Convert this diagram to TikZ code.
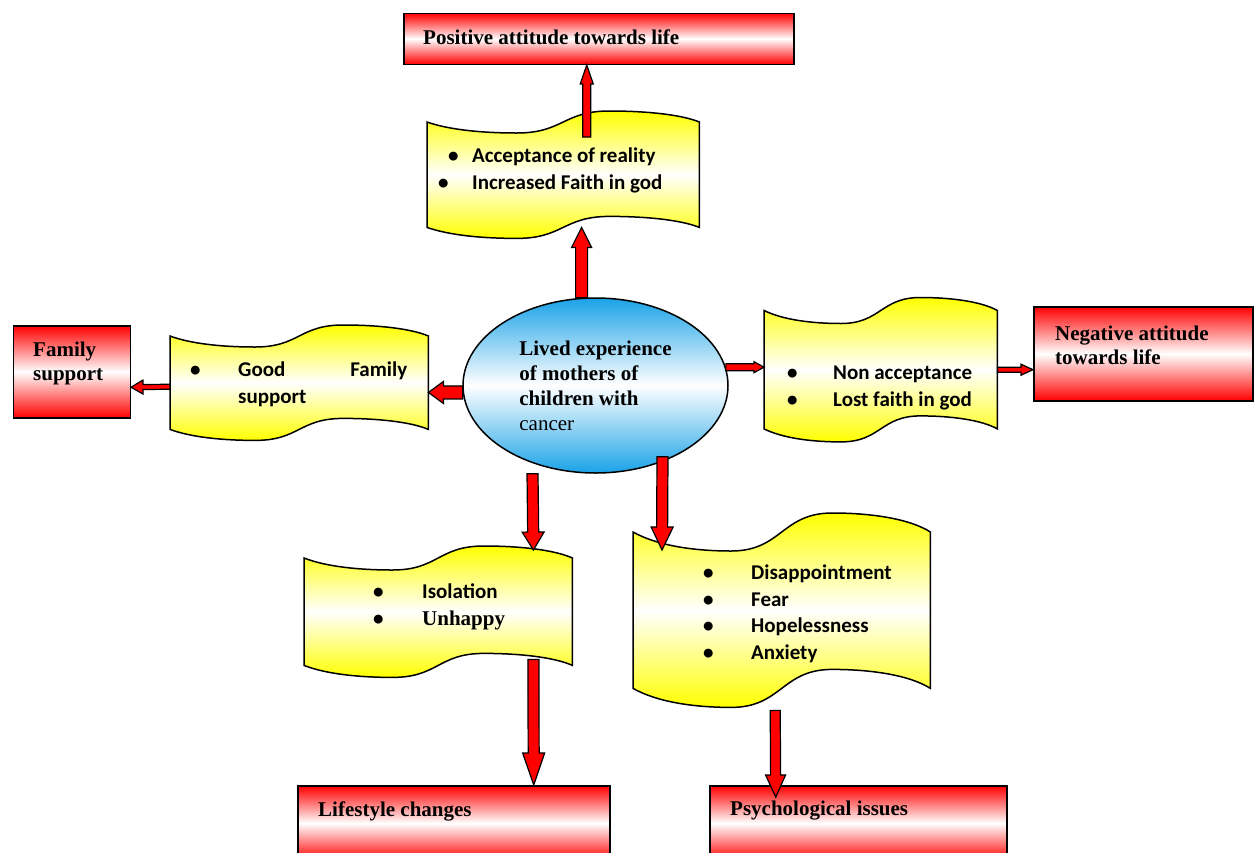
\documentclass[tikz,border=0pt]{standalone}
\usepackage{fontspec}
\setmainfont{Liberation Serif}
\newfontfamily\calibri{Carlito}
\usepackage{tikz}
\usetikzlibrary{calc,shapes.geometric}
\definecolor{skyblue}{RGB}{26,163,232}

\tikzset{
    redbox/.style={draw,line width=1.5pt,anchor=north west,inner sep=0pt,
        top color=red,bottom color=red,middle color=white},
    boxtext/.style={anchor=north west,inner sep=0pt,align=left,
        font=\fontsize{21}{24}\selectfont\bfseries},
    banner/.style={draw,line width=1.5pt,top color=yellow,bottom color=yellow,middle color=white},
    bannerbox/.style={anchor=north west,inner sep=0pt},
    bantext/.style={anchor=north west,inner sep=0pt,align=left,
        font=\calibri\fontsize{21}{26.5}\selectfont\bfseries},
    hub/.style={ellipse,draw,line width=1.5pt,minimum width=265pt,minimum height=175pt,
        inner sep=0pt,top color=skyblue,bottom color=skyblue,middle color=white,
        align=left,font=\fontsize{21}{25}\selectfont\bfseries},
    barrow/.style={draw,fill=red,line width=1.2pt,line join=miter}
}

% wavy banner round an empty node: #1 node, #2 wave height
\newcommand{\wavebanner}[2]{%
    \path[banner] let \p1=(#1.north west), \p2=(#1.south east), \n1={\x2-\x1} in
        (\x1,\y1) .. controls ({\x1+0.08*\n1},{\y1-0.7*#2}) and ({\x1+0.2*\n1},{\y1-#2}) .. ({\x1+0.33*\n1},{\y1-#2})
        .. controls ({\x1+0.5*\n1},{\y1-#2}) and ({\x1+0.5*\n1},{\y1+#2}) .. ({\x1+0.67*\n1},{\y1+#2})
        .. controls ({\x1+0.8*\n1},{\y1+#2}) and ({\x1+0.93*\n1},{\y1+0.7*#2}) .. (\x2,\y1)
        -- (\x2,\y2)
        .. controls ({\x1+0.93*\n1},{\y2+0.7*#2}) and ({\x1+0.8*\n1},{\y2+#2}) .. ({\x1+0.67*\n1},{\y2+#2})
        .. controls ({\x1+0.5*\n1},{\y2+#2}) and ({\x1+0.5*\n1},{\y2-#2}) .. ({\x1+0.33*\n1},{\y2-#2})
        .. controls ({\x1+0.2*\n1},{\y2-#2}) and ({\x1+0.08*\n1},{\y2-0.7*#2}) .. (\x1,\y2)
        -- cycle;}

% block arrow: from, to, half shaft, half head, head length
\newcommand{\blockarrow}[5]{%
    \coordinate (as) at (#1);
    \coordinate (ae) at (#2);
    \coordinate (ah) at ($(ae)!#5!(as)$);
    \filldraw[barrow] ($(as)!#3!90:(ae)$) -- ($(ah)!#3!90:(ae)$) -- ($(ah)!#4!90:(ae)$) -- (ae)
        -- ($(ah)!#4!-90:(ae)$) -- ($(ah)!#3!-90:(ae)$) -- ($(as)!#3!-90:(ae)$) -- cycle;}

\begin{document}
\begin{tikzpicture}[x=1pt,y=-1pt]
    \useasboundingbox (0,0) rectangle (1256,852);

    % outcomes
    \node[redbox,minimum width=390pt,minimum height=51pt] (posbox) at (403,12.5) {};
    \node[redbox,minimum width=117pt,minimum height=92pt] (fambox) at (12.5,325) {};
    \node[redbox,minimum width=219pt,minimum height=94pt] (negbox) at (1033,306) {};
    \node[redbox,minimum width=312pt,minimum height=75pt] (lifebox) at (297,785) {};
    \node[redbox,minimum width=297pt,minimum height=75pt] (psybox) at (709,785) {};
    \node[boxtext] (post) at (423,29.5) {Positive attitude towards life};
    \node[boxtext] (famt) at (33,341.5) {Family\\support};
    \node[boxtext] (negt) at (1055,325.5) {Negative attitude\\towards life};
    \node[boxtext] (lifet) at (318,802) {Lifestyle changes};
    \node[boxtext] (psyt) at (730,800.5) {Psychological issues};

    \node[hub] (lived) at (595.5,385.5) {Lived experience\\of mothers of\\children with\\\mdseries cancer};

    % themes
    \node[bannerbox,minimum width=272pt,minimum height=105pt] (accb) at (427,122) {};
    \wavebanner{accb}{11}
    \node[bantext] (acct) at (438,148) {\hspace*{10pt}\makebox[24pt][l]{\textbullet}Acceptance of reality\\
        \makebox[34pt][l]{\textbullet}Increased Faith in god};

    \node[bannerbox,minimum width=258pt,minimum height=93pt] (goodb) at (170,336) {};
    \wavebanner{goodb}{11}
    \node[bantext] (goodt) at (190,362) {\makebox[48pt][l]{\textbullet}\makebox[169pt][l]{Good\hfill Family}\\
        \hspace*{48pt}support};

    \node[bannerbox,minimum width=233pt,minimum height=118pt] (nonb) at (764,310.5) {};
    \wavebanner{nonb}{13}
    \node[bantext] (nont) at (787,366) {\makebox[46pt][l]{\textbullet}Non acceptance\\
        \makebox[46pt][l]{\textbullet}Lost faith in god};

    \node[bannerbox,minimum width=268pt,minimum height=107pt] (isob) at (304,558) {};
    \wavebanner{isob}{12}
    \node[bantext] (isot) at (373,584) {\makebox[49pt][l]{\textbullet}Isolation\\
        \makebox[49pt][l]{\textbullet}{\rmfamily Unhappy}};

    \node[bannerbox,minimum width=297pt,minimum height=156pt] (disb) at (633,532) {};
    \wavebanner{disb}{19}
    \node[bantext] (dist) at (703,565) {\makebox[48pt][l]{\textbullet}Disappointment\\
        \makebox[48pt][l]{\textbullet}Fear\\
        \makebox[48pt][l]{\textbullet}Hopelessness\\
        \makebox[48pt][l]{\textbullet}Anxiety};

    % arrows
    \blockarrow{lived.99}{lived.99 |- accb.south}{6pt}{10pt}{20pt}
    \blockarrow{$(posbox.south)+(-12,72)$}{$(posbox.south)+(-12,0)$}{4pt}{6.5pt}{19pt}
    \blockarrow{lived.183}{lived.183 -| goodb.east}{6.5pt}{11pt}{15pt}
    \blockarrow{$(goodb.west)+(0,4)$}{$(fambox.east)+(0,15.5)$}{2.5pt}{7pt}{12pt}
    \blockarrow{lived.8}{lived.8 -| nonb.west}{3.5pt}{5.5pt}{10pt}
    \blockarrow{nonb.east}{nonb.east -| negbox.west}{2.5pt}{5.5pt}{12pt}
    \blockarrow{$(lived.south)+(-63,0)$}{$(isob.north east)+(-39,-8)$}{5.5pt}{11pt}{18pt}
    \blockarrow{$(isob.south east)+(-39,-6)$}{$(lifebox.north)+(80,0)$}{5.5pt}{11pt}{32pt}
    \blockarrow{$(lived.south)+(67,-17)$}{$(disb.north west)+(29,18)$}{5.5pt}{11pt}{23pt}
    \blockarrow{$(disb.south)+(-6.5,22)$}{$(psybox.north)+(-82.5,12)$}{5pt}{10pt}{22pt}
\end{tikzpicture}
\end{document}
